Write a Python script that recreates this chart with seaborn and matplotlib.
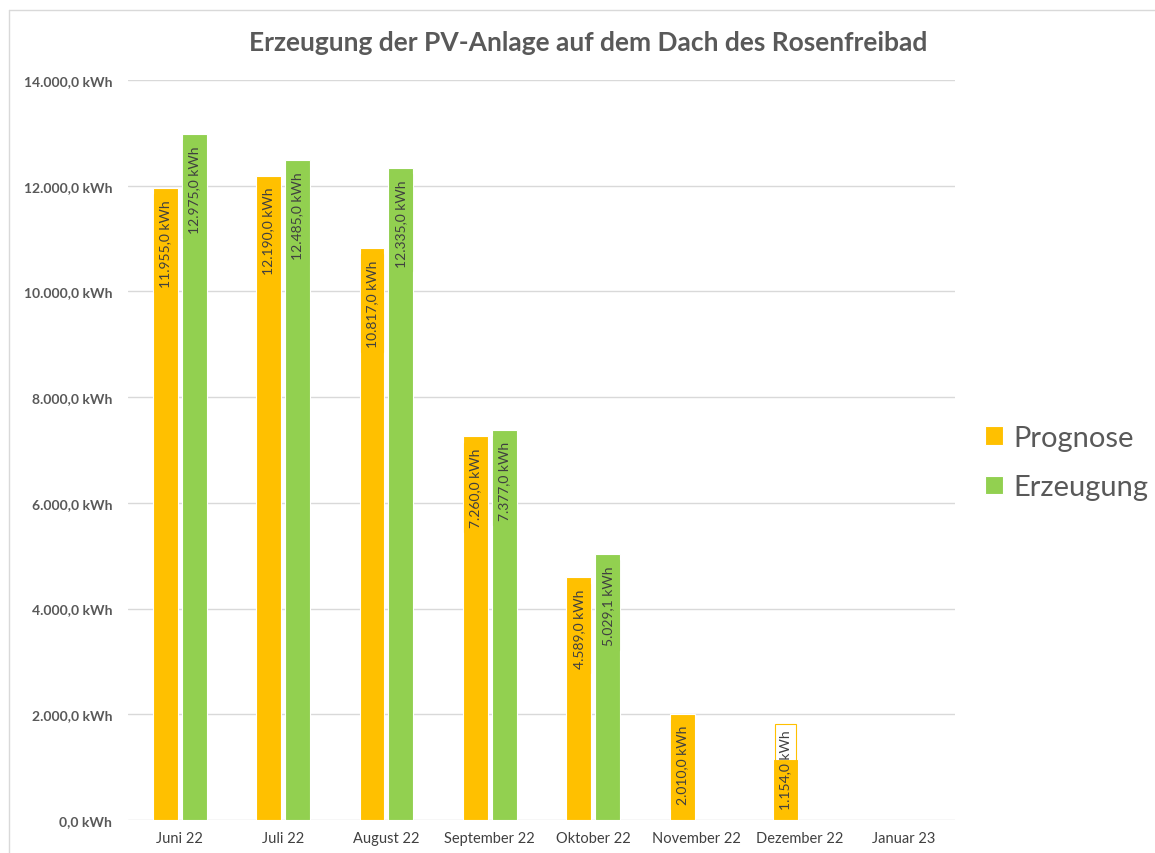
import matplotlib
matplotlib.use('Agg')
import matplotlib.pyplot as plt
import matplotlib.lines as mlines
import matplotlib.ticker as mticker
import numpy as np
import pandas as pd
import seaborn as sns

months = ['Juni 22', 'Juli 22', 'August 22', 'September 22', 'Oktober 22',
          'November 22', 'Dezember 22', 'Januar 23']
prognose = [11955.0, 12190.0, 10817.0, 7260.0, 4589.0, 2010.0, 1154.0, np.nan]
erzeugung = [12975.0, 12485.0, 12335.0, 7377.0, 5029.1, np.nan, np.nan, np.nan]
series = ['Prognose', 'Erzeugung']
colors = {'Prognose': '#FFC000', 'Erzeugung': '#92D050'}
yticks = [0, 2000, 4000, 6000, 8000, 10000, 12000, 14000]


def de_fmt(v):
    s = f'{v:,.1f}'
    return s.replace(',', 'X').replace('.', ',').replace('X', '.') + ' kWh'


df = pd.DataFrame({
    'Monat': months * 2,
    'Serie': ['Prognose'] * len(months) + ['Erzeugung'] * len(months),
    'kWh': prognose + erzeugung,
})

sns.set_style('white')
plt.rcParams['font.family'] = ['Lato', 'DejaVu Sans']

fig = plt.figure(figsize=(11.55, 8.54), dpi=100)
ax = fig.add_axes([128 / 1155, 1 - 821 / 854, 827 / 1155, 740 / 854])

sns.barplot(data=df, x='Monat', y='kWh', hue='Serie', order=months,
            hue_order=series, palette=colors, width=0.56, gap=0.14,
            saturation=1, edgecolor='white', linewidth=0.8, ax=ax, zorder=2)

ax.set_ylim(0, 14000)
ax.set_xlim(-0.5, len(months) - 0.5)
ax.set_yticks(yticks)
ax.yaxis.set_major_formatter(mticker.FuncFormatter(lambda v, p: de_fmt(v)))
ax.grid(axis='y', color='#D9D9D9', linewidth=1, zorder=0)
ax.set_axisbelow(True)
for s in ax.spines.values():
    s.set_visible(False)
ax.tick_params(axis='y', length=0, pad=11.5, labelsize=10, labelcolor='#595959')
ax.tick_params(axis='x', length=0, pad=8, labelsize=10.5, labelcolor='#404040')
for t in ax.get_yticklabels():
    t.set_fontweight('bold')
ax.set_xlabel('')
ax.set_ylabel('')

fig.text(0.509, 1 - 43 / 854, 'Erzeugung der PV-Anlage auf dem Dach des Rosenfreibad',
         ha='center', va='center', fontsize=19, fontweight='bold', color='#595959')

# data labels inside the bar ends
fig.canvas.draw()
renderer = fig.canvas.get_renderer()
for name, cont in zip(series, ax.containers):
    c = colors[name]
    for bar in cont:
        h = bar.get_height()
        if not np.isfinite(h) or h <= 0:
            continue
        x = bar.get_x() + bar.get_width() / 2
        t = ax.annotate(de_fmt(h), (x, h), xytext=(0, -8), textcoords='offset points',
                        rotation=90, ha='center', va='top', fontsize=10, color='#404040',
                        zorder=5,
                        bbox=dict(boxstyle='square,pad=0.35', fc=c, ec=c, lw=0.8))
        ext = t.get_window_extent(renderer)
        bar_px = ax.transData.transform((0, h))[1] - ax.transData.transform((0, 0))[1]
        if ext.height + 14 > bar_px:
            t.remove()
            ax.annotate(de_fmt(h), (x, 0), xytext=(0, 8), textcoords='offset points',
                        rotation=90, ha='center', va='bottom', fontsize=10,
                        color='#404040', zorder=5,
                        bbox=dict(boxstyle='square,pad=0.35', fc='none', ec=c, lw=0.8))

handles, labels = ax.get_legend_handles_labels()
ax.legend(handles, labels, loc='center left', bbox_to_anchor=(1.005, 0.483),
          frameon=False, fontsize=21, handlelength=0.6, handleheight=0.6,
          handletextpad=0.35, labelspacing=0.8, labelcolor='#595959')

# chart area border
fig.add_artist(mlines.Line2D([8.5 / 1155, 1], [1 - 10.5 / 854] * 2,
                             transform=fig.transFigure, color='#D9D9D9', lw=1))
fig.add_artist(mlines.Line2D([8.5 / 1155] * 2, [0, 1 - 10.5 / 854],
                             transform=fig.transFigure, color='#D9D9D9', lw=1))

fig.savefig('out.png', dpi=100)
